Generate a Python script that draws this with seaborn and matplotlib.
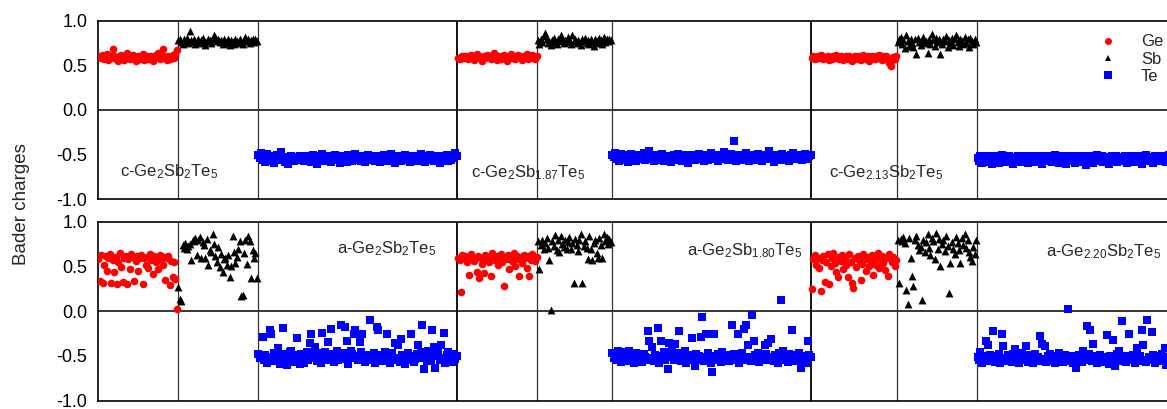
import numpy as np
import pandas as pd
import matplotlib
matplotlib.use("Agg")
import matplotlib.pyplot as plt
import seaborn as sns
from matplotlib.lines import Line2D

# ---------------- data: Bader charges per atom ----------------
# top row (crystalline)
c_gst_ge = [0.61,0.60,0.58,0.62,0.57,0.59,0.63,0.56,0.60,0.58,
            0.68,0.61,0.57,0.59,0.55,0.60,0.62,0.58,0.56,0.61,
            0.64,0.59,0.57,0.60,0.62,0.58,0.55,0.59,0.61,0.57,
            0.60,0.63,0.56,0.58,0.60,0.57,0.59,0.61,0.55,0.58,
            0.62,0.60,0.64,0.57,0.59,0.68,0.61,0.58,0.56,0.60,
            0.57,0.59,0.62,0.58,0.63,0.67]
c_gst_sb = [0.78,0.80,0.76,0.74,0.79,0.77,0.81,0.75,0.88,0.78,
            0.76,0.80,0.74,0.77,0.79,0.75,0.78,0.81,0.76,0.73,
            0.77,0.80,0.78,0.75,0.79,0.84,0.82,0.77,0.80,0.76,
            0.78,0.74,0.79,0.77,0.75,0.80,0.73,0.78,0.76,0.74,
            0.79,0.77,0.75,0.80,0.76,0.74,0.78,0.82,0.77,0.79,
            0.75,0.78,0.80,0.76,0.79,0.77]
c_gst_te = [-0.50,-0.54,-0.48,-0.56,-0.52,-0.58,-0.49,-0.55,-0.53,-0.57,
            -0.51,-0.59,-0.54,-0.50,-0.56,-0.52,-0.47,-0.55,-0.53,-0.58,
            -0.54,-0.61,-0.56,-0.52,-0.55,-0.57,-0.53,-0.56,-0.54,-0.52,
            -0.55,-0.51,-0.57,-0.53,-0.56,-0.52,-0.54,-0.58,-0.50,-0.55,
            -0.53,-0.60,-0.56,-0.52,-0.55,-0.49,-0.57,-0.53,-0.56,-0.51,
            -0.54,-0.58,-0.52,-0.55,-0.50,-0.56,-0.53,-0.59,-0.54,-0.51,
            -0.56,-0.53,-0.58,-0.50,-0.55,-0.52,-0.57,-0.54,-0.49,-0.56,
            -0.53,-0.51,-0.57,-0.54,-0.52,-0.58,-0.55,-0.50,-0.56,-0.53,
            -0.55,-0.52,-0.57,-0.51,-0.54,-0.58,-0.53,-0.56,-0.50,-0.55,
            -0.52,-0.57,-0.54,-0.49,-0.56,-0.53,-0.59,-0.55,-0.51,-0.54,
            -0.57,-0.52,-0.55,-0.50,-0.56,-0.53,-0.58,-0.54,-0.51,-0.56,
            -0.53,-0.57,-0.52,-0.55,-0.49,-0.56,-0.54,-0.58,-0.52,-0.55,
            -0.50,-0.56,-0.53,-0.57,-0.54,-0.51,-0.55,-0.59,-0.53,-0.56,
            -0.52,-0.55,-0.50,-0.57,-0.53,-0.56,-0.51,-0.54,-0.48,-0.52]

c_sb187_ge = [0.58,0.57,0.59,0.60,0.58,0.61,0.59,0.57,0.60,0.62,
              0.58,0.56,0.60,0.63,0.59,0.61,0.57,0.55,0.60,0.58,
              0.62,0.59,0.61,0.57,0.60,0.64,0.58,0.56,0.61,0.59,
              0.57,0.60,0.62,0.58,0.55,0.59,0.61,0.63,0.58,0.60,
              0.57,0.59,0.62,0.60,0.58,0.56,0.61,0.59,0.63,0.57,
              0.60,0.58,0.62,0.59,0.57,0.60]
c_sb187_sb = [0.78,0.74,0.80,0.76,0.83,0.86,0.79,0.75,0.77,0.73,
              0.78,0.81,0.76,0.74,0.79,0.77,0.84,0.80,0.75,0.78,
              0.76,0.82,0.79,0.74,0.84,0.77,0.80,0.75,0.78,0.76,
              0.73,0.79,0.77,0.81,0.75,0.78,0.74,0.80,0.76,0.72,
              0.79,0.77,0.75,0.81,0.78,0.74,0.82,0.76,0.79,0.77,
              0.80,0.78]
c_sb187_te = [-0.50,-0.53,-0.48,-0.55,-0.51,-0.57,-0.49,-0.54,-0.52,-0.56,
              -0.50,-0.58,-0.53,-0.49,-0.55,-0.51,-0.54,-0.57,-0.52,-0.50,
              -0.55,-0.53,-0.48,-0.56,-0.52,-0.54,-0.46,-0.55,-0.51,-0.57,
              -0.53,-0.50,-0.56,-0.52,-0.54,-0.49,-0.57,-0.53,-0.51,-0.55,
              -0.52,-0.58,-0.54,-0.50,-0.56,-0.53,-0.49,-0.55,-0.51,-0.57,
              -0.53,-0.50,-0.54,-0.59,-0.52,-0.55,-0.50,-0.53,-0.56,-0.51,
              -0.54,-0.49,-0.55,-0.52,-0.57,-0.53,-0.50,-0.56,-0.52,-0.48,
              -0.54,-0.51,-0.55,-0.53,-0.57,-0.50,-0.54,-0.52,-0.47,-0.55,
              -0.51,-0.56,-0.53,-0.49,-0.55,-0.35,-0.52,-0.57,-0.54,-0.50,
              -0.53,-0.56,-0.51,-0.55,-0.48,-0.53,-0.57,-0.52,-0.50,-0.55,
              -0.52,-0.56,-0.49,-0.54,-0.51,-0.57,-0.53,-0.50,-0.55,-0.52,
              -0.46,-0.54,-0.51,-0.58,-0.53,-0.50,-0.55,-0.52,-0.56,-0.49,
              -0.54,-0.51,-0.55,-0.52,-0.57,-0.50,-0.53,-0.48,-0.55,-0.52,
              -0.50,-0.54,-0.51,-0.56,-0.52,-0.49,-0.55,-0.53,-0.51,-0.50]

c_ge213_ge = [0.58,0.60,0.57,0.59,0.61,0.58,0.62,0.60,0.57,0.59,
              0.58,0.61,0.56,0.59,0.57,0.60,0.58,0.62,0.59,0.57,
              0.60,0.58,0.56,0.59,0.61,0.57,0.60,0.58,0.55,0.59,
              0.61,0.58,0.57,0.60,0.56,0.59,0.62,0.58,0.57,0.60,
              0.55,0.58,0.61,0.59,0.57,0.60,0.58,0.62,0.59,0.56,
              0.60,0.57,0.61,0.58,0.53,0.49,0.56,0.59,0.57,0.60]
c_ge213_sb = [0.76,0.79,0.82,0.74,0.78,0.69,0.84,0.77,0.72,0.80,
              0.75,0.70,0.79,0.63,0.81,0.76,0.73,0.78,0.82,0.75,
              0.77,0.64,0.80,0.74,0.85,0.78,0.72,0.81,0.76,0.79,
              0.63,0.74,0.80,0.77,0.83,0.71,0.78,0.75,0.81,0.73,
              0.79,0.84,0.76,0.72,0.80,0.77,0.74,0.82,0.75,0.79,
              0.71,0.81,0.77,0.74,0.79,0.76]
c_ge213_te = [-0.54,-0.57,-0.52,-0.59,-0.55,-0.53,-0.58,-0.51,-0.56,-0.54,
              -0.60,-0.53,-0.57,-0.52,-0.55,-0.59,-0.54,-0.50,-0.56,-0.53,
              -0.58,-0.55,-0.52,-0.57,-0.54,-0.61,-0.53,-0.56,-0.51,-0.55,
              -0.58,-0.53,-0.56,-0.52,-0.55,-0.59,-0.54,-0.57,-0.51,-0.55,
              -0.53,-0.58,-0.56,-0.52,-0.55,-0.60,-0.54,-0.51,-0.57,-0.53,
              -0.56,-0.52,-0.58,-0.55,-0.50,-0.56,-0.53,-0.59,-0.54,-0.57,
              -0.52,-0.55,-0.61,-0.53,-0.56,-0.51,-0.57,-0.54,-0.59,-0.52,
              -0.55,-0.58,-0.53,-0.56,-0.51,-0.55,-0.62,-0.54,-0.57,-0.52,
              -0.55,-0.59,-0.53,-0.56,-0.50,-0.57,-0.54,-0.52,-0.58,-0.55,
              -0.53,-0.56,-0.60,-0.54,-0.51,-0.57,-0.55,-0.52,-0.58,-0.54,
              -0.56,-0.53,-0.57,-0.51,-0.55,-0.59,-0.53,-0.56,-0.52,-0.55,
              -0.58,-0.54,-0.57,-0.52,-0.55,-0.61,-0.53,-0.56,-0.50,-0.54,
              -0.57,-0.53,-0.55,-0.59,-0.52,-0.56,-0.54,-0.51,-0.57,-0.53,
              -0.55,-0.52,-0.58,-0.54,-0.50,-0.56,-0.53,-0.49,-0.55,-0.52]

# bottom row (amorphous)
a_gst_ge = [0.58,0.34,0.63,0.31,0.52,0.62,0.45,0.60,0.64,0.32,
            0.57,0.44,0.61,0.30,0.55,0.65,0.49,0.33,0.60,0.62,
            0.30,0.58,0.47,0.64,0.61,0.34,0.56,0.62,0.45,0.60,
            0.63,0.30,0.59,0.52,0.61,0.48,0.64,0.57,0.42,0.62,
            0.55,0.60,0.47,0.63,0.58,0.52,0.61,0.35,0.59,0.62,
            0.29,0.56,0.38,0.55,0.36,0.02]
a_gst_sb = [0.27,0.14,0.11,0.74,0.71,0.76,0.69,0.73,0.75,0.57,
            0.80,0.78,0.82,0.63,0.79,0.83,0.60,0.77,0.74,0.59,
            0.81,0.52,0.68,0.66,0.86,0.75,0.62,0.55,0.72,0.49,
            0.64,0.44,0.58,0.60,0.52,0.63,0.38,0.51,0.84,0.66,
            0.54,0.61,0.70,0.78,0.17,0.18,0.65,0.80,0.53,0.84,
            0.78,0.37,0.68,0.60,0.65,0.37]
a_gst_te = [-0.48,-0.52,-0.50,-0.29,-0.55,-0.49,-0.58,-0.51,-0.21,-0.25,
            -0.53,-0.47,-0.56,-0.50,-0.41,-0.59,-0.52,-0.19,-0.48,-0.55,
            -0.60,-0.50,-0.46,-0.44,-0.57,-0.51,-0.49,-0.30,-0.55,-0.59,
            -0.48,-0.53,-0.58,-0.50,-0.46,-0.54,-0.36,-0.26,-0.52,-0.49,
            -0.40,-0.56,-0.47,-0.53,-0.58,-0.24,-0.50,-0.46,-0.55,-0.34,
            -0.52,-0.20,-0.48,-0.57,-0.51,-0.45,-0.54,-0.49,-0.15,-0.53,
            -0.47,-0.18,-0.33,-0.59,-0.52,-0.44,-0.48,-0.26,-0.21,-0.50,
            -0.55,-0.34,-0.46,-0.25,-0.53,-0.57,-0.49,-0.52,-0.10,-0.55,
            -0.50,-0.47,-0.58,-0.18,-0.21,-0.53,-0.49,-0.56,-0.51,-0.46,
            -0.25,-0.54,-0.58,-0.50,-0.47,-0.55,-0.35,-0.52,-0.38,-0.57,
            -0.31,-0.49,-0.54,-0.59,-0.51,-0.47,-0.55,-0.26,-0.50,-0.57,
            -0.53,-0.48,-0.38,-0.52,-0.46,-0.15,-0.65,-0.51,-0.56,-0.44,
            -0.49,-0.54,-0.21,-0.40,-0.63,-0.50,-0.47,-0.55,-0.38,-0.52,
            -0.24,-0.58,-0.49,-0.46,-0.54,-0.51,-0.57,-0.48,-0.53,-0.50]

a_sb180_ge = [0.60,0.57,0.21,0.63,0.59,0.62,0.55,0.60,0.40,0.64,
              0.61,0.56,0.58,0.44,0.62,0.37,0.60,0.53,0.43,0.63,
              0.58,0.61,0.55,0.39,0.65,0.60,0.57,0.62,0.52,0.59,
              0.64,0.55,0.28,0.61,0.58,0.63,0.47,0.60,0.56,0.65,
              0.50,0.62,0.58,0.39,0.61,0.54,0.63,0.59,0.48,0.62,
              0.39,0.57,0.64,0.60,0.56,0.61]
a_sb180_sb = [0.78,0.47,0.74,0.80,0.70,0.76,0.82,0.71,0.57,0.01,
              0.78,0.73,0.85,0.68,0.79,0.66,0.84,0.75,0.72,0.80,
              0.69,0.77,0.83,0.70,0.76,0.32,0.81,0.74,0.67,0.79,
              0.86,0.32,0.73,0.78,0.71,0.58,0.84,0.69,0.57,0.76,
              0.80,0.65,0.59,0.82,0.74,0.60,0.86,0.78,0.83,0.75,
              0.81,0.77]
a_sb180_te = [-0.47,-0.52,-0.49,-0.55,-0.45,-0.50,-0.57,-0.46,-0.53,-0.48,
              -0.56,-0.51,-0.45,-0.54,-0.49,-0.58,-0.52,-0.47,-0.55,-0.50,
              -0.53,-0.57,-0.48,-0.51,-0.55,-0.22,-0.33,-0.52,-0.40,-0.56,
              -0.49,-0.53,-0.19,-0.58,-0.33,-0.50,-0.46,-0.54,-0.51,-0.65,
              -0.35,-0.48,-0.42,-0.55,-0.37,-0.52,-0.47,-0.22,-0.56,-0.50,
              -0.53,-0.45,-0.58,-0.51,-0.49,-0.55,-0.30,-0.52,-0.61,-0.48,
              -0.54,-0.50,-0.29,-0.07,-0.56,-0.51,-0.25,-0.47,-0.53,-0.58,
              -0.68,-0.25,-0.50,-0.55,-0.48,-0.52,-0.57,-0.46,-0.54,-0.50,
              -0.53,-0.49,-0.56,-0.51,-0.15,-0.48,-0.55,-0.52,-0.25,-0.58,
              -0.50,-0.47,-0.20,-0.54,-0.15,-0.38,-0.51,-0.56,-0.04,-0.33,
              -0.49,-0.53,-0.47,-0.57,-0.50,-0.55,-0.52,-0.38,-0.48,-0.35,
              -0.54,-0.31,-0.51,-0.56,-0.49,-0.53,-0.58,-0.47,0.13,-0.52,
              -0.44,-0.55,-0.50,-0.57,-0.48,-0.53,-0.21,-0.51,-0.56,-0.49,
              -0.54,-0.47,-0.64,-0.52,-0.55,-0.50,-0.58,-0.33,-0.49,-0.51]

a_ge220_ge = [0.25,0.58,0.63,0.52,0.60,0.48,0.23,0.57,0.62,0.33,
              0.55,0.64,0.30,0.50,0.59,0.65,0.54,0.44,0.38,0.61,
              0.56,0.63,0.47,0.59,0.52,0.38,0.64,0.55,0.31,0.26,
              0.60,0.49,0.62,0.57,0.35,0.53,0.64,0.58,0.45,0.61,
              0.50,0.56,0.63,0.41,0.59,0.52,0.65,0.48,0.57,0.62,
              0.54,0.46,0.60,0.39,0.64,0.58,0.55,0.61,0.51,0.57]
a_ge220_sb = [0.80,0.31,0.81,0.78,0.83,0.76,0.24,0.08,0.82,0.60,
              0.39,0.28,0.79,0.84,0.74,0.68,0.72,0.12,0.80,0.66,
              0.77,0.86,0.71,0.63,0.82,0.78,0.58,0.87,0.69,0.81,
              0.51,0.75,0.80,0.67,0.84,0.73,0.20,0.54,0.77,0.70,
              0.64,0.83,0.76,0.68,0.54,0.82,0.74,0.86,0.71,0.79,
              0.66,0.61,0.56,0.72,0.64,0.80]
a_ge220_te = [-0.51,-0.55,-0.46,-0.58,-0.50,-0.54,-0.33,-0.38,-0.56,-0.49,
              -0.53,-0.22,-0.57,-0.50,-0.55,-0.48,-0.58,-0.26,-0.39,-0.52,
              -0.56,-0.49,-0.54,-0.51,-0.57,-0.48,-0.42,-0.55,-0.50,-0.58,
              -0.53,-0.47,-0.55,-0.51,-0.39,-0.57,-0.49,-0.54,-0.52,-0.58,
              -0.48,-0.55,-0.51,-0.56,-0.28,-0.37,-0.53,-0.39,-0.57,-0.50,
              -0.54,-0.48,-0.56,-0.52,-0.58,-0.50,-0.55,-0.47,-0.53,-0.51,
              -0.57,-0.49,-0.54,0.03,-0.52,-0.56,-0.50,-0.58,-0.53,-0.63,
              -0.55,-0.49,-0.52,-0.57,-0.44,-0.51,-0.54,-0.17,-0.48,-0.21,
              -0.56,-0.37,-0.53,-0.50,-0.58,-0.55,-0.49,-0.53,-0.57,-0.51,
              -0.54,-0.27,-0.59,-0.50,-0.55,-0.32,-0.61,-0.52,-0.48,-0.44,
              -0.56,-0.11,-0.53,-0.50,-0.57,-0.54,-0.26,-0.51,-0.55,-0.49,
              -0.58,-0.52,-0.41,-0.56,-0.50,-0.21,-0.38,-0.54,-0.57,-0.10,
              -0.51,-0.55,-0.23,-0.49,-0.58,-0.53,-0.50,-0.56,-0.52,-0.48,
              -0.55,-0.41,-0.60,-0.51,-0.54,-0.57,-0.50,-0.53,-0.56,-0.52]

elements = ["Ge", "Sb", "Te"]
top_labels = [r"c-Ge$_2$Sb$_2$Te$_5$", r"c-Ge$_2$Sb$_{1.87}$Te$_5$", r"c-Ge$_{2.13}$Sb$_2$Te$_5$"]
bottom_labels = [r"a-Ge$_2$Sb$_2$Te$_5$", r"a-Ge$_2$Sb$_{1.80}$Te$_5$", r"a-Ge$_{2.20}$Sb$_2$Te$_5$"]
yticks = [1.0, 0.5, 0.0, -0.5, -1.0]
ytick_labels = ["1.0", "0.5", "0.0", "-0.5", "-1.0"]

top_panels = [(c_gst_ge, c_gst_sb, c_gst_te),
              (c_sb187_ge, c_sb187_sb, c_sb187_te),
              (c_ge213_ge, c_ge213_sb, c_ge213_te)]
bottom_panels = [(a_gst_ge, a_gst_sb, a_gst_te),
                 (a_sb180_ge, a_sb180_sb, a_sb180_te),
                 (a_ge220_ge, a_ge220_sb, a_ge220_te)]

# ---------------- style ----------------
sns.set_style("white")
plt.rcParams["font.family"] = ["Liberation Sans", "DejaVu Sans"]
plt.rcParams["mathtext.fontset"] = "custom"
plt.rcParams["mathtext.rm"] = "Liberation Sans"
plt.rcParams["mathtext.it"] = "Liberation Sans"
plt.rcParams["axes.unicode_minus"] = False

colors = {"Ge": "#ff0000", "Sb": "#000000", "Te": "#0000ff"}
markers = {"Ge": "o", "Sb": "^", "Te": "s"}
sizes = {"Ge": 30, "Sb": 32, "Te": 38}


def build(panels):
    rows = []
    bounds = []
    idx = 0
    for panel in panels:
        for e, vals in zip(elements, panel):
            for v in vals:
                rows.append((idx, v, e))
                idx += 1
            bounds.append((idx - 0.5, e == "Te"))
    df = pd.DataFrame(rows, columns=["atom", "charge", "element"])
    return df, bounds, idx


W, H = 1167, 409
fig = plt.figure(figsize=(W / 100, H / 100), dpi=100)
ax_top = fig.add_axes([97.7 / W, 1 - 199.3 / H, 1079 / W, 178.6 / H])
ax_bot = fig.add_axes([97.7 / W, 1 - 400.7 / H, 1079 / W, 179.0 / H])

for ax, panels in [(ax_top, top_panels), (ax_bot, bottom_panels)]:
    df, bounds, n = build(panels)
    ax.axhline(0, color="black", lw=1.1, zorder=1)
    for b, major in bounds[:-1]:
        if major:
            ax.axvline(b, color="black", lw=1.3, zorder=1)
        else:
            ax.axvline(b, color="#333333", lw=0.9, zorder=1)
    for e in elements:
        sub = df[df["element"] == e]
        sns.scatterplot(data=sub, x="atom", y="charge", color=colors[e],
                        marker=markers[e], s=sizes[e], linewidth=0,
                        ax=ax, zorder=3, legend=False)
    ax.set_xlim(-0.5, n - 0.5)
    ax.set_ylim(-1.0, 1.0)
    ax.set_xticks([])
    ax.set_yticks(yticks)
    ax.set_yticklabels(ytick_labels)
    ax.tick_params(axis="y", length=0, pad=7.5, labelsize=13, colors="black")
    ax.set_xlabel("")
    ax.set_ylabel("")
    for s in ax.spines.values():
        s.set_linewidth(1.2)
        s.set_color("black")

# panel labels
top_pos = [(120, 176.7), (470.7, 177), (829.3, 177)]
bot_pos = [(337.3, 253.3), (686.7, 255), (1045.7, 256.7)]
for lab, (px, py) in zip(top_labels, top_pos):
    fig.text(px / W, 1 - py / H, lab, fontsize=12, va="baseline", ha="left")
for lab, (px, py) in zip(bottom_labels, bot_pos):
    fig.text(px / W, 1 - py / H, lab, fontsize=12, va="baseline", ha="left")

fig.text(22 / W, 0.5, "Bader charges", rotation=90, fontsize=13.5,
         va="center", ha="center")

# legend
handles = [Line2D([], [], linestyle="none", marker=markers[e], color=colors[e],
                  markersize={"Ge": 5.0, "Sb": 4.8, "Te": 5.5}[e], markeredgewidth=0)
           for e in elements]
fig.legend(handles, elements, loc="upper left",
           bbox_to_anchor=(1091 / W, 1 - 34.5 / H), frameon=False,
           fontsize=12, borderpad=0, borderaxespad=0, labelspacing=0.13,
           handletextpad=1.0, handlelength=2.0)

fig.savefig("out.png", dpi=100)
